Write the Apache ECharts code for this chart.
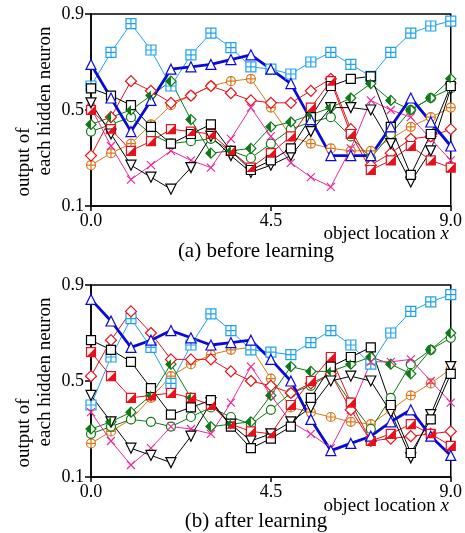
<!DOCTYPE html>
<html>
<head>
<meta charset="utf-8">
<script src="https://cdn.jsdelivr.net/npm/echarts@6/dist/echarts.min.js"></script>
<style>
  html, body { margin: 0; padding: 0; background: #fff; }
  #main { width: 465px; height: 533px; }
</style>
</head>
<body>
<div id="main"></div>
<script>
// object location on the x axis
var xLoc = [0.0, 0.5, 1.0, 1.5, 2.0, 2.5, 3.0, 3.5, 4.0, 4.5, 5.0, 5.5, 6.0, 6.5, 7.0, 7.5, 8.0, 8.5, 9.0];
var xTicks = [0, 4.5, 9];
var yTicks = [0.1, 0.5, 0.9];

// (a) before learning
var aSkyGrid      = [0.60, 0.74, 0.86, 0.75, 0.60, 0.73, 0.82, 0.76, 0.68, 0.67, 0.65, 0.70, 0.74, 0.69, 0.64, 0.74, 0.82, 0.85, 0.87];
var aBlueTri      = [0.69, 0.55, 0.41, 0.54, 0.67, 0.68, 0.69, 0.71, 0.73, 0.67, 0.61, 0.46, 0.31, 0.31, 0.31, 0.43, 0.55, 0.45, 0.35];
var aRedDiamond   = [0.31, 0.47, 0.62, 0.58, 0.53, 0.56, 0.60, 0.57, 0.54, 0.53, 0.53, 0.58, 0.63, 0.42, 0.27, 0.32, 0.38, 0.39, 0.42];
var aOrangeCircle = [0.27, 0.32, 0.36, 0.44, 0.52, 0.56, 0.60, 0.62, 0.63, 0.51, 0.39, 0.36, 0.34, 0.33, 0.33, 0.38, 0.43, 0.47, 0.51];
var aGreenDiamond = [0.44, 0.47, 0.50, 0.56, 0.62, 0.46, 0.32, 0.33, 0.34, 0.43, 0.45, 0.48, 0.51, 0.55, 0.61, 0.54, 0.50, 0.55, 0.63];
var aGreenCircle  = [0.41, 0.44, 0.47, 0.40, 0.36, 0.37, 0.38, 0.33, 0.30, 0.36, 0.42, 0.45, 0.47, 0.39, 0.30, 0.40, 0.50, 0.55, 0.59];
var aBlackSquare  = [0.59, 0.56, 0.52, 0.43, 0.36, 0.40, 0.44, 0.33, 0.25, 0.29, 0.34, 0.47, 0.60, 0.63, 0.64, 0.43, 0.23, 0.40, 0.60];
var aBlackTri     = [0.53, 0.40, 0.27, 0.22, 0.17, 0.26, 0.39, 0.31, 0.24, 0.27, 0.31, 0.41, 0.51, 0.51, 0.50, 0.36, 0.20, 0.33, 0.59];
var aRedSquare    = [0.50, 0.42, 0.33, 0.37, 0.42, 0.41, 0.40, 0.33, 0.26, 0.32, 0.39, 0.51, 0.62, 0.40, 0.25, 0.29, 0.35, 0.29, 0.26];
var aPinkCross    = [0.51, 0.35, 0.21, 0.27, 0.33, 0.29, 0.26, 0.38, 0.51, 0.39, 0.28, 0.22, 0.18, 0.34, 0.54, 0.50, 0.47, 0.38, 0.29];

// (b) after learning
var bSkyGrid      = [0.40, 0.60, 0.76, 0.64, 0.49, 0.65, 0.78, 0.71, 0.63, 0.62, 0.61, 0.66, 0.71, 0.65, 0.57, 0.70, 0.79, 0.83, 0.86];
var bBlueTri      = [0.84, 0.75, 0.64, 0.67, 0.71, 0.68, 0.65, 0.66, 0.67, 0.59, 0.50, 0.34, 0.21, 0.24, 0.27, 0.33, 0.38, 0.27, 0.19];
var bRedDiamond   = [0.52, 0.67, 0.79, 0.70, 0.59, 0.59, 0.59, 0.54, 0.50, 0.48, 0.45, 0.49, 0.53, 0.38, 0.25, 0.26, 0.27, 0.28, 0.29];
var bOrangeCircle = [0.24, 0.29, 0.34, 0.43, 0.52, 0.57, 0.61, 0.63, 0.64, 0.51, 0.39, 0.37, 0.35, 0.33, 0.32, 0.38, 0.44, 0.49, 0.55];
var bGreenDiamond = [0.30, 0.33, 0.37, 0.44, 0.57, 0.43, 0.31, 0.32, 0.33, 0.44, 0.56, 0.54, 0.54, 0.57, 0.60, 0.57, 0.53, 0.63, 0.70];
var bGreenCircle  = [0.28, 0.31, 0.34, 0.33, 0.31, 0.35, 0.39, 0.35, 0.32, 0.38, 0.45, 0.48, 0.53, 0.41, 0.30, 0.43, 0.57, 0.63, 0.68];
var bBlackSquare  = [0.67, 0.63, 0.58, 0.47, 0.36, 0.39, 0.42, 0.31, 0.22, 0.26, 0.31, 0.43, 0.56, 0.60, 0.64, 0.40, 0.20, 0.34, 0.53];
var bBlackTri     = [0.44, 0.33, 0.22, 0.19, 0.16, 0.27, 0.41, 0.32, 0.25, 0.28, 0.33, 0.39, 0.50, 0.52, 0.50, 0.37, 0.18, 0.36, 0.56];
var bRedSquare    = [0.62, 0.52, 0.43, 0.44, 0.45, 0.43, 0.40, 0.32, 0.29, 0.28, 0.40, 0.50, 0.60, 0.41, 0.25, 0.28, 0.32, 0.28, 0.23];
var bPinkCross    = [0.37, 0.25, 0.15, 0.22, 0.31, 0.30, 0.28, 0.41, 0.56, 0.44, 0.33, 0.28, 0.22, 0.38, 0.58, 0.58, 0.59, 0.50, 0.41];

var FONT = '"Liberation Serif", "DejaVu Serif", serif';

// marker shapes
var SYM = {
  boxPlus: 'path://M0,0L10,0L10,10L0,10Z M5,0L5,10 M0,5L10,5',
  circPlus: 'path://M5,0A5,5,0,1,1,5,10A5,5,0,1,1,5,0Z M5,0L5,10 M0,5L10,5',
  diamond: 'path://M5,0L10,5L5,10L0,5Z',
  halfDiamond: 'path://M5,0L0,5L5,10Z',
  downTri: 'path://M0,0L10,0L5,9Z',
  upTri: 'path://M5,0L10,9L0,9Z',
  cornerTri: 'path://M10,0L10,10L0,10Z',
  cross: 'path://M0,0L10,10M10,0L0,10'
};

function pts(vals) {
  return xLoc.map(function (x, i) { return [x, vals[i]]; });
}

function line(gi, vals, color, symbol, size, width, fill) {
  return {
    type: 'line',
    xAxisIndex: gi,
    yAxisIndex: gi,
    data: pts(vals),
    symbol: symbol,
    symbolSize: size,
    showSymbol: true,
    lineStyle: { color: color, width: width },
    itemStyle: { color: fill || '#fff', borderColor: color, borderWidth: 1.2 },
    z: 2,
    animation: false,
    silent: true
  };
}

// filled half of a marker, drawn over the open one
function half(gi, vals, color, symbol, size, offset) {
  return {
    type: 'scatter',
    xAxisIndex: gi,
    yAxisIndex: gi,
    data: pts(vals),
    symbol: symbol,
    symbolSize: size,
    symbolOffset: offset || [0, 0],
    itemStyle: { color: color, borderWidth: 0, opacity: 1 },
    z: 3,
    animation: false,
    silent: true
  };
}

function panel(gi, d) {
  return [
    line(gi, d.orange, '#d9781c', SYM.circPlus, 9, 1),
    line(gi, d.sky, '#1ea2f0', SYM.boxPlus, 10, 1),
    line(gi, d.greenCircle, '#0b7a12', 'circle', 9, 1),
    line(gi, d.greenDiamond, '#0b7a12', SYM.diamond, 10, 1),
    half(gi, d.greenDiamond, '#0b7a12', SYM.halfDiamond, [5, 10], [-2.5, 0]),
    line(gi, d.pink, '#f0289a', SYM.cross, 8, 1, '#f0289a'),
    line(gi, d.redDiamond, '#e8101a', SYM.diamond, 11, 1),
    line(gi, d.redSquare, '#e8101a', 'rect', 9, 1),
    half(gi, d.redSquare, '#e8101a', SYM.cornerTri, 9),
    line(gi, d.blackTri, '#000', SYM.downTri, 10, 1),
    line(gi, d.blackSquare, '#000', 'rect', 9, 1),
    line(gi, d.blue, '#0a0ad8', SYM.upTri, 10, 2.8)
  ];
}

function xAxisFor(gi) {
  return {
    type: 'value', gridIndex: gi, min: 0, max: 9,
    axisLine: { show: true, lineStyle: { color: '#000', width: 1.5 } },
    axisTick: { show: true, inside: false, length: 5, customValues: xTicks, lineStyle: { color: '#000', width: 1.5 } },
    axisLabel: {
      customValues: xTicks, margin: 6, color: '#000', fontFamily: FONT, fontSize: 18,
      formatter: function (v) { return v.toFixed(1); }
    },
    splitLine: { show: false }
  };
}

function yAxisFor(gi) {
  return {
    type: 'value', gridIndex: gi, min: 0.1, max: 0.9,
    axisLine: { show: true, lineStyle: { color: '#000', width: 1.5 } },
    axisTick: { show: true, inside: false, length: 6, customValues: yTicks, lineStyle: { color: '#000', width: 1.5 } },
    axisLabel: {
      customValues: yTicks, margin: 7, color: '#000', fontFamily: FONT, fontSize: 18,
      formatter: function (v) { return v.toFixed(1); }
    },
    splitLine: { show: false }
  };
}

function label(x, y, text, size, rot) {
  return {
    type: 'text', x: x, y: y, rotation: rot || 0, silent: true,
    style: {
      text: text, font: size + 'px ' + FONT, fill: '#000',
      align: 'center', verticalAlign: 'middle', textAlign: 'center', textVerticalAlign: 'middle'
    }
  };
}

function axisName(y) {
  return {
    type: 'text', x: 449, y: y, silent: true,
    style: {
      text: '{n|object location }{i|x}', fill: '#000',
      align: 'right', verticalAlign: 'middle', textAlign: 'right', textVerticalAlign: 'middle',
      rich: {
        n: { fontFamily: FONT, fontSize: 19, fill: '#000' },
        i: { fontFamily: FONT, fontSize: 19, fontStyle: 'italic', fill: '#000' }
      }
    }
  };
}

var chart = echarts.init(document.getElementById('main'), null, { renderer: 'canvas' });

var option = {
  backgroundColor: '#fff',
  animation: false,
  grid: [
    { left: 91, top: 14, width: 361, height: 192, show: true, borderColor: '#000', borderWidth: 1.5, containLabel: false },
    { left: 91, top: 285, width: 361, height: 192, show: true, borderColor: '#000', borderWidth: 1.5, containLabel: false }
  ],
  xAxis: [xAxisFor(0), xAxisFor(1)],
  yAxis: [yAxisFor(0), yAxisFor(1)],
  series: panel(0, {
    sky: aSkyGrid, blue: aBlueTri, redDiamond: aRedDiamond, orange: aOrangeCircle,
    greenDiamond: aGreenDiamond, greenCircle: aGreenCircle, blackSquare: aBlackSquare,
    blackTri: aBlackTri, redSquare: aRedSquare, pink: aPinkCross
  }).concat(panel(1, {
    sky: bSkyGrid, blue: bBlueTri, redDiamond: bRedDiamond, orange: bOrangeCircle,
    greenDiamond: bGreenDiamond, greenCircle: bGreenCircle, blackSquare: bBlackSquare,
    blackTri: bBlackTri, redSquare: bRedSquare, pink: bPinkCross
  })),
  graphic: [
    label(24, 162, 'output of', 19, Math.PI / 2),
    label(45, 101, 'each hidden neuron', 19, Math.PI / 2),
    label(24, 433, 'output of', 19, Math.PI / 2),
    label(45, 372, 'each hidden neuron', 19, Math.PI / 2),
    axisName(234),
    axisName(506),
    label(256, 251, '(a) before learning', 21),
    label(256, 521, '(b) after learning', 21)
  ]
};

chart.setOption(option);
</script>
</body>
</html>
